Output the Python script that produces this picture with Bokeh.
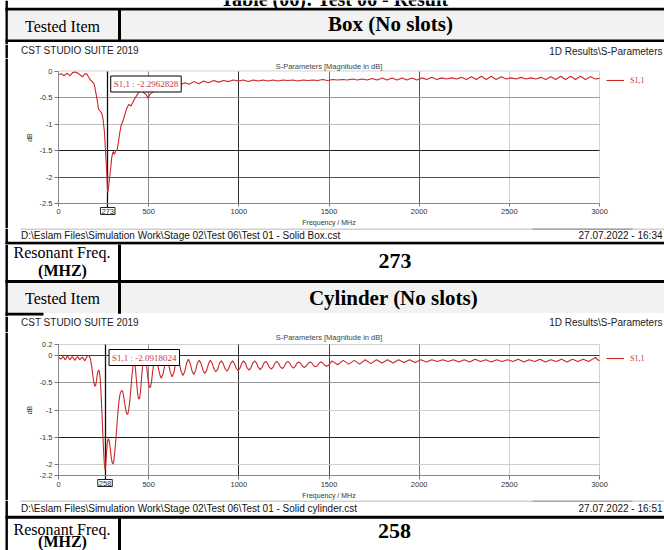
from bokeh.plotting import figure
from bokeh.models import (Range1d, Label, BoxAnnotation, Grid, FixedTicker,
                          Legend, LegendItem)
from bokeh.layouts import column
from bokeh.embed import file_html
from bokeh.resources import INLINE

# ------------------------------------------------------------------ data
caption = "Table (06): Test 06 - Result"
tested_item_label = "Tested Item"
resonant_label = "Resonant Freq."
resonant_unit = "(MHZ)"
item_names = ["Box (No slots)", "Cylinder (No slots)"]
resonant_freqs = [273, 258]
marker_values = ["-2.2962828", "-2.0918024"]
series_name = "S1,1"
suite_label = "CST STUDIO SUITE 2019"
tree_label = r"1D Results\S-Parameters"
plot_title = "S-Parameters [Magnitude in dB]"
x_label = "Frequency / MHz"
y_label = "dB"
file_paths = [r"D:\Eslam Files\Simulation Work\Stage 02\Test 06\Test 01 - Solid Box.cst",
              r"D:\Eslam Files\Simulation Work\Stage 02\Test 06\Test 01 - Solid cylinder.cst"]
timestamps = ["27.07.2022 - 16:34", "27.07.2022 - 16:51"]

x_ticks = [0, 500, 1000, 1500, 2000, 2500, 3000]
x_tick_labels = ["0", "500", "1000", "1500", "2000", "2500", "3000"]
box_y_ticks = [0, -0.5, -1, -1.5, -2, -2.5]
box_y_tick_labels = ["0", "-0.5", "-1", "-1.5", "-2", "-2.5"]
cyl_y_ticks = [0.2, 0, -0.5, -1, -1.5, -2, -2.2]
cyl_y_tick_labels = ["0.2", "0", "-0.5", "-1", "-1.5", "-2", "-2.2"]

box_freq = [
    0, 15, 30, 48, 63, 78, 92, 107, 122, 133,
    144, 155, 166, 177, 188, 199, 207, 214, 222, 229,
    240, 247, 255, 260, 266, 270, 273, 278, 284, 290,
    295, 303, 310, 318, 325, 332, 340, 347, 358, 369,
    380, 391, 402, 414, 425, 436, 447, 458, 473, 487,
    497, 506, 530, 560, 600, 640, 676,
    700, 725, 750, 778, 805, 832, 860, 887, 915, 942, 970, 997,
    1025, 1052, 1080, 1107, 1135, 1162, 1190, 1217, 1245, 1272, 1300, 1327, 1355, 1382, 1410, 1437, 1465, 1492,
    1520, 1547, 1575, 1602, 1630, 1657, 1685, 1712, 1740, 1767, 1795, 1822, 1850, 1877, 1905, 1932, 1960, 1987,
    2015, 2042, 2070, 2097, 2125, 2152, 2180, 2207, 2235, 2262, 2290, 2317, 2345, 2372, 2400, 2427, 2455, 2482,
    2510, 2537, 2565, 2592, 2620, 2647, 2675, 2702, 2730, 2757, 2785, 2812, 2840, 2867, 2895, 2922, 2950, 2977, 3000,
]
box_s11 = [
    -0.07, -0.05, -0.09, -0.04, -0.09, -0.03, -0.02, -0.04, -0.08, -0.11,
    -0.06, -0.05, -0.11, -0.17, -0.20, -0.26, -0.41, -0.53, -0.72, -0.75,
    -0.80, -0.91, -1.16, -1.47, -1.82, -2.10, -2.296, -2.18, -2.00, -1.82,
    -1.63, -1.52, -1.57, -1.50, -1.49, -1.35, -1.16, -1.03, -0.94, -0.81,
    -0.69, -0.63, -0.66, -0.58, -0.51, -0.45, -0.39, -0.36, -0.41, -0.45,
    -0.52, -0.44, -0.38, -0.34, -0.31, -0.29, -0.26,
    -0.22, -0.25, -0.20, -0.24, -0.19, -0.22, -0.18, -0.21, -0.18, -0.20, -0.17, -0.19,
    -0.17, -0.20, -0.17, -0.19, -0.17, -0.19, -0.17, -0.19, -0.17, -0.18, -0.17, -0.19, -0.17, -0.18, -0.17, -0.18, -0.16, -0.18,
    -0.16, -0.17, -0.16, -0.17, -0.15, -0.17, -0.15, -0.17, -0.14, -0.17, -0.13, -0.17, -0.13, -0.17, -0.13, -0.17, -0.13, -0.17,
    -0.13, -0.16, -0.12, -0.16, -0.13, -0.15, -0.13, -0.15, -0.12, -0.16, -0.11, -0.16, -0.10, -0.16, -0.10, -0.16, -0.11, -0.15,
    -0.13, -0.15, -0.12, -0.15, -0.13, -0.15, -0.12, -0.16, -0.11, -0.16, -0.10, -0.16, -0.10, -0.16, -0.10, -0.16, -0.11, -0.15, -0.14,
]

cyl_freq = [
    0, 6, 12, 18, 24, 30, 36, 42, 48, 54,
    62, 68, 76, 83, 90, 97, 105, 112, 118, 125,
    132, 139, 146, 153, 160, 166, 172, 178, 184, 190,
    196, 201, 206, 211, 216, 221, 226, 231, 236, 241,
    246, 250, 254, 258, 262, 266, 270, 274, 278, 282,
    287, 292, 297, 302, 307, 312, 318, 324, 330, 336,
    342, 348, 354, 360, 366, 372, 378, 384, 390, 396,
    402, 408, 414, 420, 426, 432, 438, 444, 450, 456,
    462, 468, 474, 480, 486, 492, 498, 504, 510, 516,
    522, 528, 533,
    540, 550, 560, 570, 580, 590,
    600, 610, 620, 630, 640, 650,
    660, 670, 680, 690, 700, 710,
    720, 730, 740, 750, 760, 770,
    781, 791, 801, 811, 822, 832,
    842, 852, 862, 872, 883, 893,
    903, 913, 923, 934, 944, 954,
    965, 975, 985, 996, 1006, 1016,
    1026, 1036, 1046, 1057, 1067, 1077,
    1088, 1098, 1108, 1118, 1129, 1139,
    1149, 1159, 1169, 1180, 1190, 1200,
    1210, 1220, 1230, 1241, 1251, 1261,
    1272, 1282, 1292, 1303, 1313, 1323,
    1333, 1343, 1353, 1364, 1374, 1384,
    1395, 1405, 1415, 1425, 1436, 1446,
    1456, 1466, 1476, 1487, 1497, 1507,
    1517, 1548, 1579, 1609, 1640, 1670, 1701, 1732, 1763, 1794, 1824, 1855, 1886, 1916, 1947, 1977,
    2010, 2040, 2070, 2100, 2130, 2160, 2190, 2220, 2250, 2280,
    2310, 2340, 2370, 2400, 2430, 2460, 2490, 2520, 2550, 2580,
    2610, 2640, 2670, 2700, 2730, 2760, 2790, 2820, 2850, 2880,
    2910, 2940, 2970, 2980, 2990, 3000,
]
cyl_s11 = [
    -0.03, -0.05, -0.07, -0.05, -0.02, -0.04, -0.08, -0.06, -0.01, -0.03,
    -0.08, -0.06, -0.02, -0.05, -0.09, -0.06, -0.02, -0.05, -0.08, -0.05,
    -0.03, -0.06, -0.10, -0.05, -0.01, 0.00, -0.02, -0.08, -0.20, -0.36,
    -0.50, -0.56, -0.55, -0.45, -0.33, -0.27, -0.28, -0.42, -0.70, -1.05,
    -1.45, -1.75, -1.98, -2.092, -2.00, -1.80, -1.62, -1.54, -1.53, -1.58,
    -1.70, -1.85, -1.96, -1.99, -1.93, -1.78, -1.55, -1.28, -1.02, -0.82,
    -0.70, -0.65, -0.65, -0.72, -0.85, -0.98, -1.07, -1.08, -0.98, -0.82,
    -0.58, -0.35, -0.17, -0.12, -0.22, -0.45, -0.68, -0.80, -0.79, -0.62,
    -0.36, -0.14, -0.02, -0.02, -0.12, -0.30, -0.48, -0.58, -0.58, -0.48,
    -0.30, -0.16, -0.10,
    -0.08, -0.165, -0.335, -0.42, -0.335, -0.165,
    -0.06, -0.14, -0.31, -0.39, -0.31, -0.14,
    -0.07, -0.145, -0.295, -0.37, -0.295, -0.145,
    -0.07, -0.14, -0.28, -0.35, -0.28, -0.14,
    -0.09, -0.15, -0.27, -0.33, -0.27, -0.15,
    -0.09, -0.14, -0.25, -0.30, -0.25, -0.14,
    -0.10, -0.15, -0.24, -0.29, -0.24, -0.15,
    -0.10, -0.145, -0.235, -0.28, -0.235, -0.145,
    -0.10, -0.14, -0.23, -0.27, -0.23, -0.14,
    -0.10, -0.14, -0.22, -0.26, -0.22, -0.14,
    -0.11, -0.145, -0.215, -0.25, -0.215, -0.145,
    -0.11, -0.14, -0.21, -0.24, -0.21, -0.14,
    -0.11, -0.14, -0.20, -0.23, -0.20, -0.14,
    -0.12, -0.145, -0.195, -0.22, -0.195, -0.145,
    -0.12, -0.14, -0.19, -0.21, -0.19, -0.14,
    -0.12, -0.14, -0.18, -0.20, -0.18, -0.14,
    -0.10, -0.17, -0.09, -0.16, -0.09, -0.16, -0.08, -0.15, -0.08, -0.14, -0.08, -0.14, -0.08, -0.13, -0.08, -0.13,
    -0.08, -0.12, -0.08, -0.11, -0.08, -0.11, -0.08, -0.12, -0.08, -0.12,
    -0.07, -0.11, -0.08, -0.12, -0.08, -0.11, -0.08, -0.11, -0.07, -0.12,
    -0.08, -0.11, -0.07, -0.12, -0.08, -0.11, -0.07, -0.12, -0.07, -0.11,
    -0.07, -0.11, -0.05, -0.04, -0.08, -0.10,
]

# ------------------------------------------------------------------ styling / layout
SERIF = "Liberation Serif"
SANS = "Liberation Sans"
RED = "#cc2626"
RED_TXT = "#c8383c"
GRAY_BG = "#f2f2f2"
PAGE_W = 664
BOX_L, BOX_R = 58, 599        # plot box, page pixels
LB_L, LB_R = 5, 7.4           # left table border


def sheet(y0, y1):
    p = figure(width=PAGE_W, height=y1 - y0, x_range=Range1d(0, PAGE_W), y_range=Range1d(y1, y0),
               x_axis_type=None, y_axis_type=None, toolbar_location=None,
               output_backend="svg", min_border=0, outline_line_color=None,
               background_fill_color="white", border_fill_color="white")
    box(p, y0, y1, LB_L, LB_R)
    return p


def box(p, top, bottom, left=None, right=None, color="black"):
    kw = dict(top=top, bottom=bottom, fill_color=color, fill_alpha=1.0, line_color=None)
    if left is not None:
        kw["left"] = left
    if right is not None:
        kw["right"] = right
    p.add_layout(BoxAnnotation(**kw))


def hline(p, y, w=2.6, left=LB_L, right=None, color="black"):
    box(p, y - w / 2, y + w / 2, left, right, color)


def vline(p, x, y0, y1, w=3, color="black"):
    box(p, y0, y1, x - w / 2, x + w / 2, color)


def txt(p, x, y, s, size, font=SERIF, style="normal", align="left", color="black"):
    # y is the vertical centre of the capitals
    p.add_layout(Label(x=x, y=y, text=s, text_font=font, text_font_size=f"{size}px",
                       text_font_style=style, text_align=align,
                       text_baseline="middle", text_color=color))


def splot(cy0, cy1, box_t, box_b, v_top, v_bot, freq, s11, y_ticks, y_tick_labels,
          marker_f, marker_v, vgrid, hgrid, legend_y, title_y, note_dx):
    f0, f1 = x_ticks[0], x_ticks[-1]
    kx = (BOX_R - BOX_L) / (f1 - f0)
    ky = (box_b - box_t) / (v_top - v_bot)

    def fx(px):
        return f0 + (px - BOX_L) / kx

    def fy(py):
        return v_top - (py - box_t) / ky

    p = figure(width=PAGE_W, height=cy1 - cy0,
               x_range=Range1d(fx(0), fx(PAGE_W)), y_range=Range1d(fy(cy1), fy(cy0)),
               min_border=0, toolbar_location=None, output_backend="svg",
               outline_line_color=None, background_fill_color="white", border_fill_color="white",
               x_axis_label=x_label, y_axis_label=y_label)
    p.xgrid.visible = False
    p.ygrid.visible = False
    p.add_layout(BoxAnnotation(left=fx(LB_L), right=fx(LB_R), fill_color="black",
                               fill_alpha=1.0, line_color=None))

    for ax in (p.xaxis, p.yaxis):
        ax.axis_line_color = "#999999"
        ax.major_tick_line_color = "#777777"
        ax.minor_tick_line_color = None
        ax.major_tick_in = 0
        ax.major_label_text_font = SANS
        ax.major_label_text_font_size = "7.5px"
        ax.major_label_text_color = "#333333"
        ax.axis_label_text_font = SANS
        ax.axis_label_text_font_size = "7px"
        ax.axis_label_text_font_style = "normal"
        ax.axis_label_text_color = "#333333"
    p.xaxis.fixed_location = v_bot
    p.xaxis.bounds = (f0, f1)
    p.xaxis.ticker = FixedTicker(ticks=x_ticks)
    p.xaxis.major_label_overrides = dict(zip(x_ticks, x_tick_labels))
    p.xaxis.major_tick_out = 3
    p.xaxis.major_label_standoff = 2
    p.xaxis.axis_label_standoff = 2
    p.yaxis.fixed_location = f0
    p.yaxis.bounds = (v_bot, v_top)
    p.yaxis.ticker = FixedTicker(ticks=y_ticks)
    p.yaxis.major_label_overrides = dict(zip(y_ticks, y_tick_labels))
    p.yaxis.major_tick_out = 4
    p.yaxis.major_label_standoff = 2
    p.yaxis.axis_label_standoff = 4

    for t, c in vgrid:
        p.add_layout(Grid(dimension=0, ticker=FixedTicker(ticks=[t]), grid_line_color=c,
                          cross_bounds=(v_bot, v_top)))
    for t, c in hgrid:
        p.add_layout(Grid(dimension=1, ticker=FixedTicker(ticks=[t]), grid_line_color=c,
                          cross_bounds=(f0, f1)))
    p.add_layout(Grid(dimension=0, ticker=FixedTicker(ticks=[marker_f]), grid_line_color="#111111",
                      grid_line_width=1.3, cross_bounds=(fy(box_b + 4), v_top)))
    p.add_layout(BoxAnnotation(left=f0, right=f1, top=v_top, bottom=v_bot, fill_color=None,
                               line_color="#6a6a6a", line_width=1))

    r = p.line(freq, s11, line_color=RED, line_width=1.1)

    p.add_layout(Label(x=fx((BOX_L + BOX_R) / 2), y=fy(title_y), text=plot_title,
                       text_font=SANS, text_font_size="7.5px", text_color="#444444",
                       text_align="center", text_baseline="middle"))
    p.add_layout(Label(x=marker_f, y=v_top, x_offset=note_dx, y_offset=-5,
                       text=f"{series_name} : {marker_v}", text_font=SERIF, text_font_size="9px",
                       text_color=RED_TXT, text_baseline="top", text_align="left",
                       border_line_color="black", border_line_width=1,
                       background_fill_color="white", padding=3))
    p.add_layout(Label(x=marker_f, y=v_bot, y_offset=-4, text=str(marker_f),
                       text_font=SANS, text_font_size="7.5px", text_color="#333333",
                       text_baseline="top", text_align="center",
                       border_line_color="#222222", border_line_width=1,
                       background_fill_color="white", padding=1))

    leg = Legend(items=[LegendItem(label=series_name, renderers=[r])], location=(606, legend_y),
                 padding=0, margin=0, spacing=0, glyph_width=18, glyph_height=10,
                 label_height=10, label_width=10, label_standoff=6,
                 label_text_font=SERIF, label_text_font_size="8px", label_text_color=RED_TXT,
                 border_line_color=None, background_fill_alpha=0)
    p.add_layout(leg)
    return p


# ---- section 1: caption + header row of the first item
s1 = sheet(0, 44)
box(s1, 10, 39, LB_R, None, GRAY_BG)
txt(s1, 334, -1.5, caption, 20, style="bold", align="center")
hline(s1, 8.7, w=2.7)
hline(s1, 40.3)
vline(s1, 119, 8.7, 40.3)
txt(s1, 62, 25.5, tested_item_label, 16, align="center")
txt(s1, 390, 23.6, item_names[0], 21, style="bold", align="center")

# ---- section 2: CST header of the first plot
s2 = sheet(44, 58)
txt(s2, 20.5, 50.4, suite_label, 10, font=SANS, color="#222222")
txt(s2, 662, 50.6, tree_label, 10, font=SANS, align="right", color="#222222")

# ---- section 3: first plot
p1 = splot(58, 228, 70.5, 203, box_y_ticks[0], box_y_ticks[-1], box_freq, box_s11,
           box_y_ticks, box_y_tick_labels, resonant_freqs[0], marker_values[0],
           vgrid=[(500, "#8a8a8a"), (1000, "#2e2e2e"), (1500, "#707070"), (2000, "#5a5a5a"), (2500, "#cfcfcf")],
           hgrid=[(-0.5, "#9a9a9a"), (-1, "#bdbdbd"), (-1.5, "#1e1e1e"), (-2, "#505050")],
           legend_y=143, title_y=66.3, note_dx=3)

# ---- section 4: footer of the first plot
s4 = sheet(228, 244)
hline(s4, 228.4, w=1, left=20, color="#a0a0a0")
hline(s4, 228.4, w=1.2, left=532, right=632, color="#808080")
txt(s4, 20.5, 235.4, file_paths[0], 10, font=SANS, color="#111111")
txt(s4, 662, 235.4, timestamps[0], 10, font=SANS, align="right", color="#111111")
hline(s4, 242.7, w=3)

# ---- section 5: resonant row 1 + header row of the second item
s5 = sheet(244, 316)
box(s5, 282.5, 312.5, LB_R, None, GRAY_BG)
hline(s5, 242.7, w=3)
vline(s5, 119, 242.7, 313.3)
hline(s5, 281, w=3)
hline(s5, 313.6, w=2.6, right=43)
txt(s5, 61.5, 251.8, resonant_label, 16, align="center")
txt(s5, 62, 270, resonant_unit, 16, style="bold", align="center")
txt(s5, 394.5, 260.8, str(resonant_freqs[0]), 22, style="bold", align="center")
txt(s5, 62, 297.5, tested_item_label, 16, align="center")
txt(s5, 393, 297, item_names[1], 21, style="bold", align="center")

# ---- section 6: CST header of the second plot
s6 = sheet(316, 332)
txt(s6, 20.5, 321.9, suite_label, 10, font=SANS, color="#222222")
txt(s6, 662, 321.9, tree_label, 10, font=SANS, align="right", color="#222222")

# ---- section 7: second plot
p2 = splot(332, 500, 344, 475, cyl_y_ticks[0], cyl_y_ticks[-1], cyl_freq, cyl_s11,
           cyl_y_ticks, cyl_y_tick_labels, resonant_freqs[1], marker_values[1],
           vgrid=[(500, "#8a8a8a"), (1000, "#2e2e2e"), (1500, "#4a4a4a"), (2000, "#7a7a7a"), (2500, "#d0d0d0")],
           hgrid=[(0, "#3a3a3a"), (-0.5, "#9a9a9a"), (-1, "#cfcfcf"), (-1.5, "#222222"), (-2, "#cfcfcf")],
           legend_y=137, title_y=337, note_dx=4)
p2.xaxis.major_tick_out = 4

# ---- section 8: footer of the second plot + resonant row 2
s8 = sheet(500, 550)
hline(s8, 500.5, w=1, left=20, color="#a0a0a0")
hline(s8, 500.5, w=1.2, left=532, right=632, color="#808080")
txt(s8, 20.5, 508.2, file_paths[1], 10, font=SANS, color="#111111")
txt(s8, 662, 508.2, timestamps[1], 10, font=SANS, align="right", color="#111111")
hline(s8, 516.7, w=3)
vline(s8, 119, 516.7, 550)
txt(s8, 61.5, 529.2, resonant_label, 16, align="center")
txt(s8, 62, 541.3, resonant_unit, 16, style="bold", align="center")
txt(s8, 394, 530, str(resonant_freqs[1]), 22, style="bold", align="center")

layout = column(s1, s2, p1, s4, s5, s6, p2, s8, spacing=0)

open("out.html", "w").write(file_html(layout, INLINE))
